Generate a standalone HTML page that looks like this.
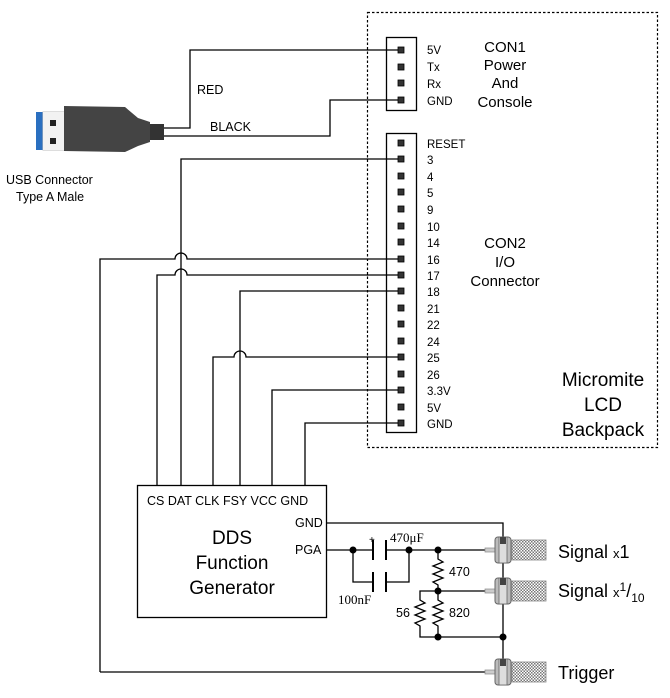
<!DOCTYPE html>
<html><head><meta charset="utf-8"><style>
body{margin:0;background:#fff;}
svg{display:block;font-family:"Liberation Sans",sans-serif;}
</style></head><body>
<svg width="670" height="698" viewBox="0 0 670 698">
<defs>
<pattern id="h" width="3" height="3" patternUnits="userSpaceOnUse"><rect width="3" height="3" fill="#fff"/><rect width="1.5" height="1.5" fill="#777"/><rect x="1.5" y="1.5" width="1.5" height="1.5" fill="#777"/></pattern>
<g id="bnc">
<rect x="-10" y="-2" width="10" height="4" fill="#ccc" stroke="#888" stroke-width="0.7"/>
<rect x="0" y="-13" width="16" height="26" rx="3" fill="#bbb" stroke="#666" stroke-width="1"/>
<rect x="4" y="-13" width="8" height="26" fill="#ddd" stroke="#666" stroke-width="0.8"/>
<rect x="5" y="-13" width="6" height="7" fill="#444"/>
<rect x="17" y="-10" width="34" height="20" fill="url(#h)" stroke="#888" stroke-width="0.8"/>
</g>
</defs>
<rect x="367.5" y="12.5" width="290" height="435" fill="none" stroke="#000" stroke-width="1.2" stroke-dasharray="2.5,2"/>
<g fill="none" stroke="#000" stroke-width="1.3">
<rect x="386.5" y="37.5" width="30" height="73"/>
<rect x="386.5" y="133.5" width="30" height="299"/>
<rect x="137.5" y="485.5" width="189" height="132"/>
<polyline points="160,128 190,128 190,50 401,50"/>
<polyline points="160,136 330,136 330,100 401,100"/>
<polyline points="181,485 181,159 401,159"/>
<path d="M100,672 V259 H175 A6,6 0 0 1 187,259 H401"/>
<path d="M157,485 V275 H175 A6,6 0 0 1 187,275 H401"/>
<polyline points="240,485 240,291 401,291"/>
<path d="M213,485 V357 H234 A6,6 0 0 1 246,357 H401"/>
<polyline points="272,485 272,390 401,390"/>
<polyline points="305,485 305,423 401,423"/>
<polyline points="327,523 503,523 503,537"/>
<polyline points="327,550 373,550"/>
<line x1="386" y1="550" x2="490" y2="550"/>
<polyline points="353,550 353,582 373,582"/>
<polyline points="386,582 409,582 409,550"/>
<line x1="373" y1="540" x2="373" y2="560" stroke-width="2"/>
<line x1="386" y1="540" x2="386" y2="560" stroke-width="2"/>
<line x1="373" y1="572" x2="373" y2="592" stroke-width="2"/>
<line x1="386" y1="572" x2="386" y2="592" stroke-width="2"/>
<polyline points="438,550 438,559 443,562 433,566 443,570 433,574 443,578 433,582 438,585 438,591"/>
<polyline points="438,591 438,600 443,603 433,607 443,611 433,615 443,619 433,623 438,626 438,637"/>
<polyline points="438,591 420,591 420,600 425,603 415,607 425,611 415,615 425,619 415,623 420,626 420,637 503,637"/>
<line x1="438" y1="591" x2="490" y2="591"/>
<line x1="503" y1="563" x2="503" y2="578"/>
<line x1="503" y1="604" x2="503" y2="659"/>
<line x1="100" y1="672" x2="490" y2="672"/>
</g>
<g fill="#000">
<circle cx="353" cy="550" r="3.5"/><circle cx="409" cy="550" r="3.5"/><circle cx="438" cy="550" r="3.5"/>
<circle cx="438" cy="591" r="3.5"/><circle cx="438" cy="637" r="3.5"/><circle cx="503" cy="637" r="3.5"/>
</g>
<use href="#bnc" x="495" y="550"/>
<use href="#bnc" x="495" y="591"/>
<use href="#bnc" x="495" y="672"/>
<g fill="#333" stroke="#000" stroke-width="0.8">
<rect x="398" y="47" width="6" height="6"/><rect x="398" y="64" width="6" height="6"/><rect x="398" y="80" width="6" height="6"/><rect x="398" y="97" width="6" height="6"/>
<rect x="398" y="140" width="6" height="6"/><rect x="398" y="156" width="6" height="6"/><rect x="398" y="173" width="6" height="6"/><rect x="398" y="189" width="6" height="6"/><rect x="398" y="206" width="6" height="6"/><rect x="398" y="223" width="6" height="6"/><rect x="398" y="239" width="6" height="6"/><rect x="398" y="256" width="6" height="6"/><rect x="398" y="272" width="6" height="6"/><rect x="398" y="288" width="6" height="6"/><rect x="398" y="305" width="6" height="6"/><rect x="398" y="321" width="6" height="6"/><rect x="398" y="338" width="6" height="6"/><rect x="398" y="354" width="6" height="6"/><rect x="398" y="371" width="6" height="6"/><rect x="398" y="387" width="6" height="6"/><rect x="398" y="404" width="6" height="6"/><rect x="398" y="420" width="6" height="6"/>
</g>
<rect x="36" y="112" width="7" height="38" fill="#2a6fc0"/>
<rect x="43" y="112" width="33" height="38" fill="#f2f2f2" stroke="#bbb"/>
<rect x="58" y="120" width="6" height="6" fill="#222"/><rect x="58" y="138" width="6" height="6" fill="#222"/>
<path d="M64,106 L125,107 L138,118 L150,122 L150,142 L138,146 L125,152 L64,151 Z" fill="#444"/>
<rect x="43" y="112" width="21" height="38" fill="#f2f2f2"/>
<rect x="50" y="120" width="6" height="6" fill="#222"/><rect x="50" y="138" width="6" height="6" fill="#222"/>
<rect x="150" y="124" width="14" height="16" fill="#333"/>
<g font-size="12.5" fill="#000">
<text x="197" y="94">RED</text>
<text x="210" y="131">BLACK</text>
<text x="6" y="184">USB Connector</text>
<text x="16" y="201">Type A Male</text>
<g font-size="11.5">
<text x="427" y="54">5V</text><text x="427" y="71">Tx</text><text x="427" y="88">Rx</text><text x="427" y="105">GND</text>
<text x="427" y="148">RESET</text><text x="427" y="164">3</text><text x="427" y="181">4</text><text x="427" y="197">5</text><text x="427" y="214">9</text><text x="427" y="231">10</text><text x="427" y="247">14</text><text x="427" y="264">16</text><text x="427" y="280">17</text><text x="427" y="296">18</text><text x="427" y="313">21</text><text x="427" y="329">22</text><text x="427" y="346">24</text><text x="427" y="362">25</text><text x="427" y="379">26</text><text x="427" y="395">3.3V</text><text x="427" y="412">5V</text><text x="427" y="428">GND</text>
</g>
<g font-size="15" text-anchor="middle">
<text x="505" y="52">CON1</text><text x="505" y="70">Power</text><text x="505" y="88">And</text><text x="505" y="107">Console</text>
<text x="505" y="248">CON2</text><text x="505" y="267">I/O</text><text x="505" y="286">Connector</text>
</g>
<g font-size="19" text-anchor="middle">
<text x="603" y="386">Micromite</text><text x="603" y="411">LCD</text><text x="603" y="436">Backpack</text>
<text x="232" y="544">DDS</text><text x="232" y="569">Function</text><text x="232" y="594">Generator</text>
</g>
<text x="147" y="505" font-size="12.5">CS DAT CLK FSY VCC GND</text>
<text x="295" y="527">GND</text><text x="295" y="554">PGA</text>
<text x="390" y="542" font-family="Liberation Serif" font-size="13">470μF</text>
<text x="369" y="543" font-size="10">+</text>
<text x="338" y="604" font-family="Liberation Serif" font-size="13">100nF</text>
<text x="449" y="576">470</text><text x="449" y="617">820</text><text x="396" y="617">56</text>
<g font-size="18">
<text x="558" y="558">Signal <tspan font-size="13">x</tspan>1</text>
<text x="558" y="597">Signal <tspan font-size="13">x</tspan><tspan font-size="12" dy="-6">1</tspan><tspan dy="6">/</tspan><tspan font-size="12" dy="5">10</tspan></text>
<text x="558" y="679">Trigger</text>
</g>
</g>
</svg>
</body></html>
